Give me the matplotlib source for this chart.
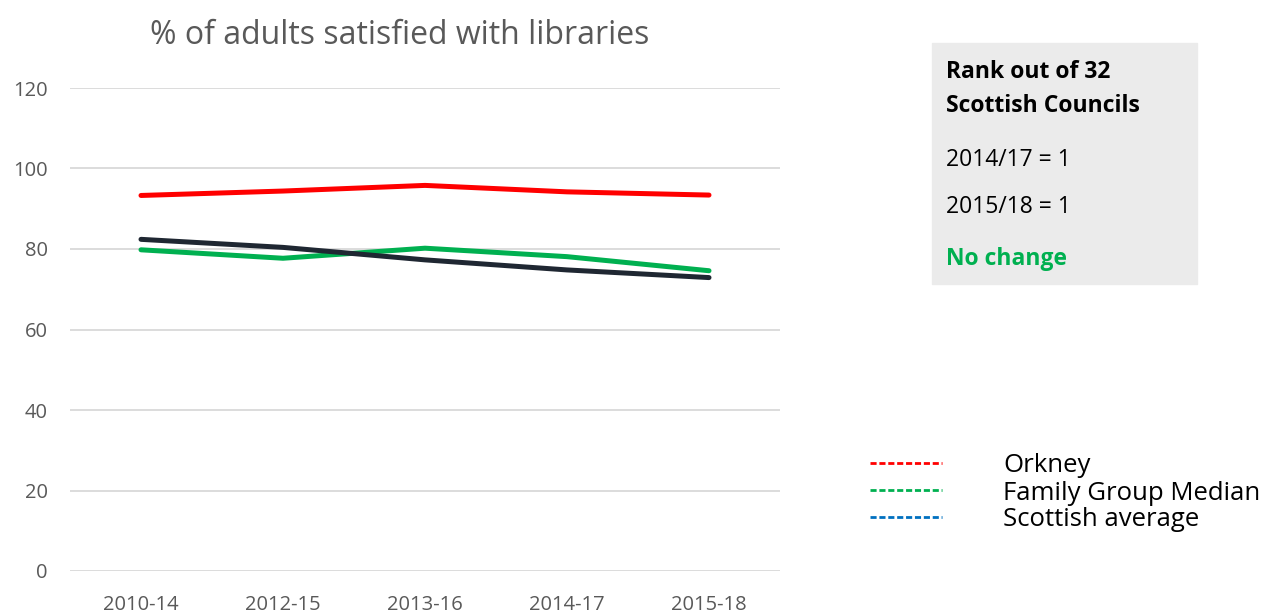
import matplotlib.pyplot as plt
from matplotlib.patches import Rectangle
from matplotlib.lines import Line2D

# Daten
periods = ['2010-14', '2012-15', '2013-16', '2014-17', '2015-18']
orkney = [93.3, 94.4, 95.8, 94.2, 93.4]
family_median = [79.8, 77.7, 80.2, 78.1, 74.6]
scottish_avg = [82.4, 80.4, 77.3, 74.8, 72.9]
y_ticks = [0, 20, 40, 60, 80, 100, 120]

legend_labels = ['Orkney', 'Family Group Median', 'Scottish average']
legend_colors = ['#FF0000', '#00B050', '#0070C0']

plt.rcParams['font.family'] = ['Open Sans', 'DejaVu Sans']

fig = plt.figure(figsize=(12.63, 6.13), dpi=100)
ax = fig.add_axes([70 / 1263, 42 / 613, 710 / 1263, 483 / 613])

x = range(len(periods))
ax.plot(x, orkney, color='#FF0000', lw=3.6, solid_capstyle='round')
ax.plot(x, family_median, color='#00B050', lw=3.6, solid_capstyle='round')
ax.plot(x, scottish_avg, color='#1F2732', lw=3.6, solid_capstyle='round')

ax.set_xlim(-0.5, len(periods) - 0.5)
ax.set_ylim(0, 120)
ax.set_yticks(y_ticks)
ax.set_xticks(list(x))
ax.set_xticklabels(periods)
ax.yaxis.grid(True, color='#D9D9D9', lw=1.3)
ax.set_axisbelow(True)
for s in ax.spines.values():
    s.set_visible(False)
ax.tick_params(length=0, labelsize=14.5, labelcolor='#595959')
ax.tick_params(axis='y', pad=16)
ax.tick_params(axis='x', pad=17)

fig.text(400 / 1263, 1 - 35 / 613, '% of adults satisfied with libraries',
         ha='center', va='center', fontsize=23, color='#595959')

# Kasten mit Rang
fig.patches.append(Rectangle((932 / 1263, 1 - 284 / 613), 265 / 1263, 241 / 613,
                             transform=fig.transFigure, color='#EBEBEB', zorder=0))
fig.text(946 / 1263, 1 - 72 / 613, 'Rank out of 32', fontsize=16.5, weight='bold', va='center')
fig.text(946 / 1263, 1 - 106 / 613, 'Scottish Councils', fontsize=16.5, weight='bold', va='center')
fig.text(946 / 1263, 1 - 160 / 613, '2014/17 = 1', fontsize=16.5, va='center')
fig.text(946 / 1263, 1 - 207 / 613, '2015/18 = 1', fontsize=16.5, va='center')
fig.text(946 / 1263, 1 - 259 / 613, 'No change', fontsize=16.5, weight='bold', va='center', color='#00B050')

# Legende
for i, (lab, col) in enumerate(zip(legend_labels, legend_colors)):
    yy = 1 - (463 + i * 27) / 613
    fig.lines.append(Line2D([870 / 1263, 942 / 1263], [yy, yy], transform=fig.transFigure,
                            color=col, lw=2, ls=(0, (2.2, 1.0))))
    fig.text(1003 / 1263, yy - 3 / 613, lab, fontsize=18.5, va='center')

fig.savefig('out.png', dpi=100)
